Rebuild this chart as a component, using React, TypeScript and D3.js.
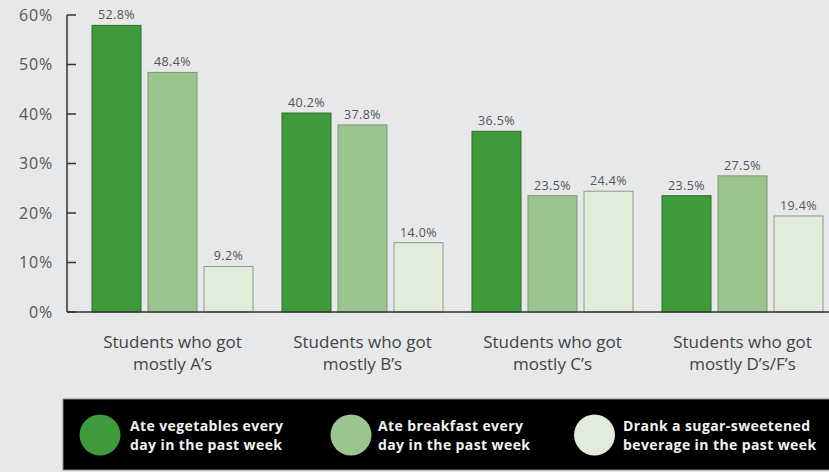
import React, { useEffect, useRef } from "react";
import * as d3 from "d3";

const categories = ["A", "B", "C", "D"];
const categoryLines = [
  ["Students who got", "mostly A’s"],
  ["Students who got", "mostly B’s"],
  ["Students who got", "mostly C’s"],
  ["Students who got", "mostly D’s/F’s"],
];
const seriesKeys = ["veg", "breakfast", "soda"];
const seriesNames = [
  ["Ate vegetables every", "day in the past week"],
  ["Ate breakfast every", "day in the past week"],
  ["Drank a sugar-sweetened", "beverage in the past week"],
];
// bar heights as drawn in the picture
const vegValues = [57.9, 40.2, 36.5, 23.5];
const breakfastValues = [48.4, 37.8, 23.5, 27.5];
const sodaValues = [9.2, 14.0, 24.4, 19.4];
// value labels as printed
const vegLabels = ["52.8%", "40.2%", "36.5%", "23.5%"];
const breakfastLabels = ["48.4%", "37.8%", "23.5%", "27.5%"];
const sodaLabels = ["9.2%", "14.0%", "24.4%", "19.4%"];
const yTicks = [0, 10, 20, 30, 40, 50, 60];

const fills = ["#3f9a3b", "#9cc48e", "#e1ecda"];
const strokes = ["#2e6e2c", "#7f957a", "#8f9a8c"];

export default function App() {
  const ref = useRef<SVGSVGElement>(null);
  useEffect(() => {
    document.body.style.margin = "0";
    const svg = d3.select(ref.current);
    svg.selectAll("*").remove();
    const W = 829, H = 472;
    svg.append("rect").attr("width", W).attr("height", H).attr("fill", "#e7e8ea");

    const y = d3.scaleLinear().domain([0, 60]).range([312, 15]);
    const x0 = d3.scaleBand().domain(categories).range([92, 823]).paddingInner(0.1526).paddingOuter(0);
    const x1 = d3.scaleBand().domain(seriesKeys).range([0, x0.bandwidth()]).paddingInner(0.125);

    const values = [vegValues, breakfastValues, sodaValues];
    const labels = [vegLabels, breakfastLabels, sodaLabels];
    const font = "'Open Sans', sans-serif";

    // y axis
    const axisX = 67;
    svg.append("line").attr("x1", axisX).attr("x2", axisX).attr("y1", y(60)).attr("y2", y(0))
      .attr("stroke", "#333").attr("stroke-width", 1.5);
    const tg = svg.append("g");
    yTicks.forEach((t) => {
      tg.append("line").attr("x1", axisX).attr("x2", axisX + 9).attr("y1", y(t)).attr("y2", y(t))
        .attr("stroke", "#333").attr("stroke-width", 1.5);
      tg.append("text").attr("x", 53).attr("y", y(t)).attr("dy", "0.35em").attr("text-anchor", "end")
        .attr("font-family", font).attr("font-size", 16).attr("font-weight", 400).attr("fill", "#555")
        .attr("letter-spacing", 0.8).text(`${t}%`);
    });

    // bars
    categories.forEach((c, ci) => {
      seriesKeys.forEach((s, si) => {
        const v = values[si][ci];
        const bx = x0(c)! + x1(s)!;
        svg.append("rect").attr("x", bx).attr("y", y(v)).attr("width", x1.bandwidth())
          .attr("height", y(0) - y(v)).attr("fill", fills[si]).attr("stroke", strokes[si]).attr("stroke-width", 1);
        svg.append("text").attr("x", bx + x1.bandwidth() / 2).attr("y", y(v) - 6).attr("text-anchor", "middle")
          .attr("font-family", font).attr("font-size", 12.5).attr("font-weight", 400).attr("fill", "#555")
          .attr("letter-spacing", 0.4).text(labels[si][ci]);
      });
      const cx = x0(c)! + x0.bandwidth() / 2;
      categoryLines[ci].forEach((ln, li) => {
        svg.append("text").attr("x", cx).attr("y", 342 + li * 22).attr("dy", "0.35em").attr("text-anchor", "middle")
          .attr("font-family", font).attr("font-size", 17).attr("font-weight", 400).attr("fill", "#444").text(ln);
      });
    });

    // x axis baseline
    svg.append("line").attr("x1", axisX).attr("x2", W).attr("y1", y(0)).attr("y2", y(0))
      .attr("stroke", "#333").attr("stroke-width", 1.5);

    // legend
    svg.append("rect").attr("x", 63).attr("y", 399).attr("width", W - 63 + 2).attr("height", 71)
      .attr("fill", "#000").attr("stroke", "#888").attr("stroke-width", 1);
    const legendCircleX = [100, 351, 594.5];
    const legendTextX = [130, 378, 623];
    seriesKeys.forEach((s, si) => {
      svg.append("circle").attr("cx", legendCircleX[si]).attr("cy", 435).attr("r", 20.5).attr("fill", fills[si]);
      seriesNames[si].forEach((ln, li) => {
        svg.append("text").attr("x", legendTextX[si]).attr("y", 426 + li * 19).attr("dy", "0.35em")
          .attr("font-family", font).attr("font-size", 14).attr("font-weight", 700)
          .attr("letter-spacing", 0.4).attr("fill", "#f2f2f2").text(ln);
      });
    });
  }, []);
  return (
    <div style={{ position: "absolute", left: 0, top: 0 }}>
      <svg ref={ref} width={829} height={472} style={{ display: "block" }} />
    </div>
  );
}
